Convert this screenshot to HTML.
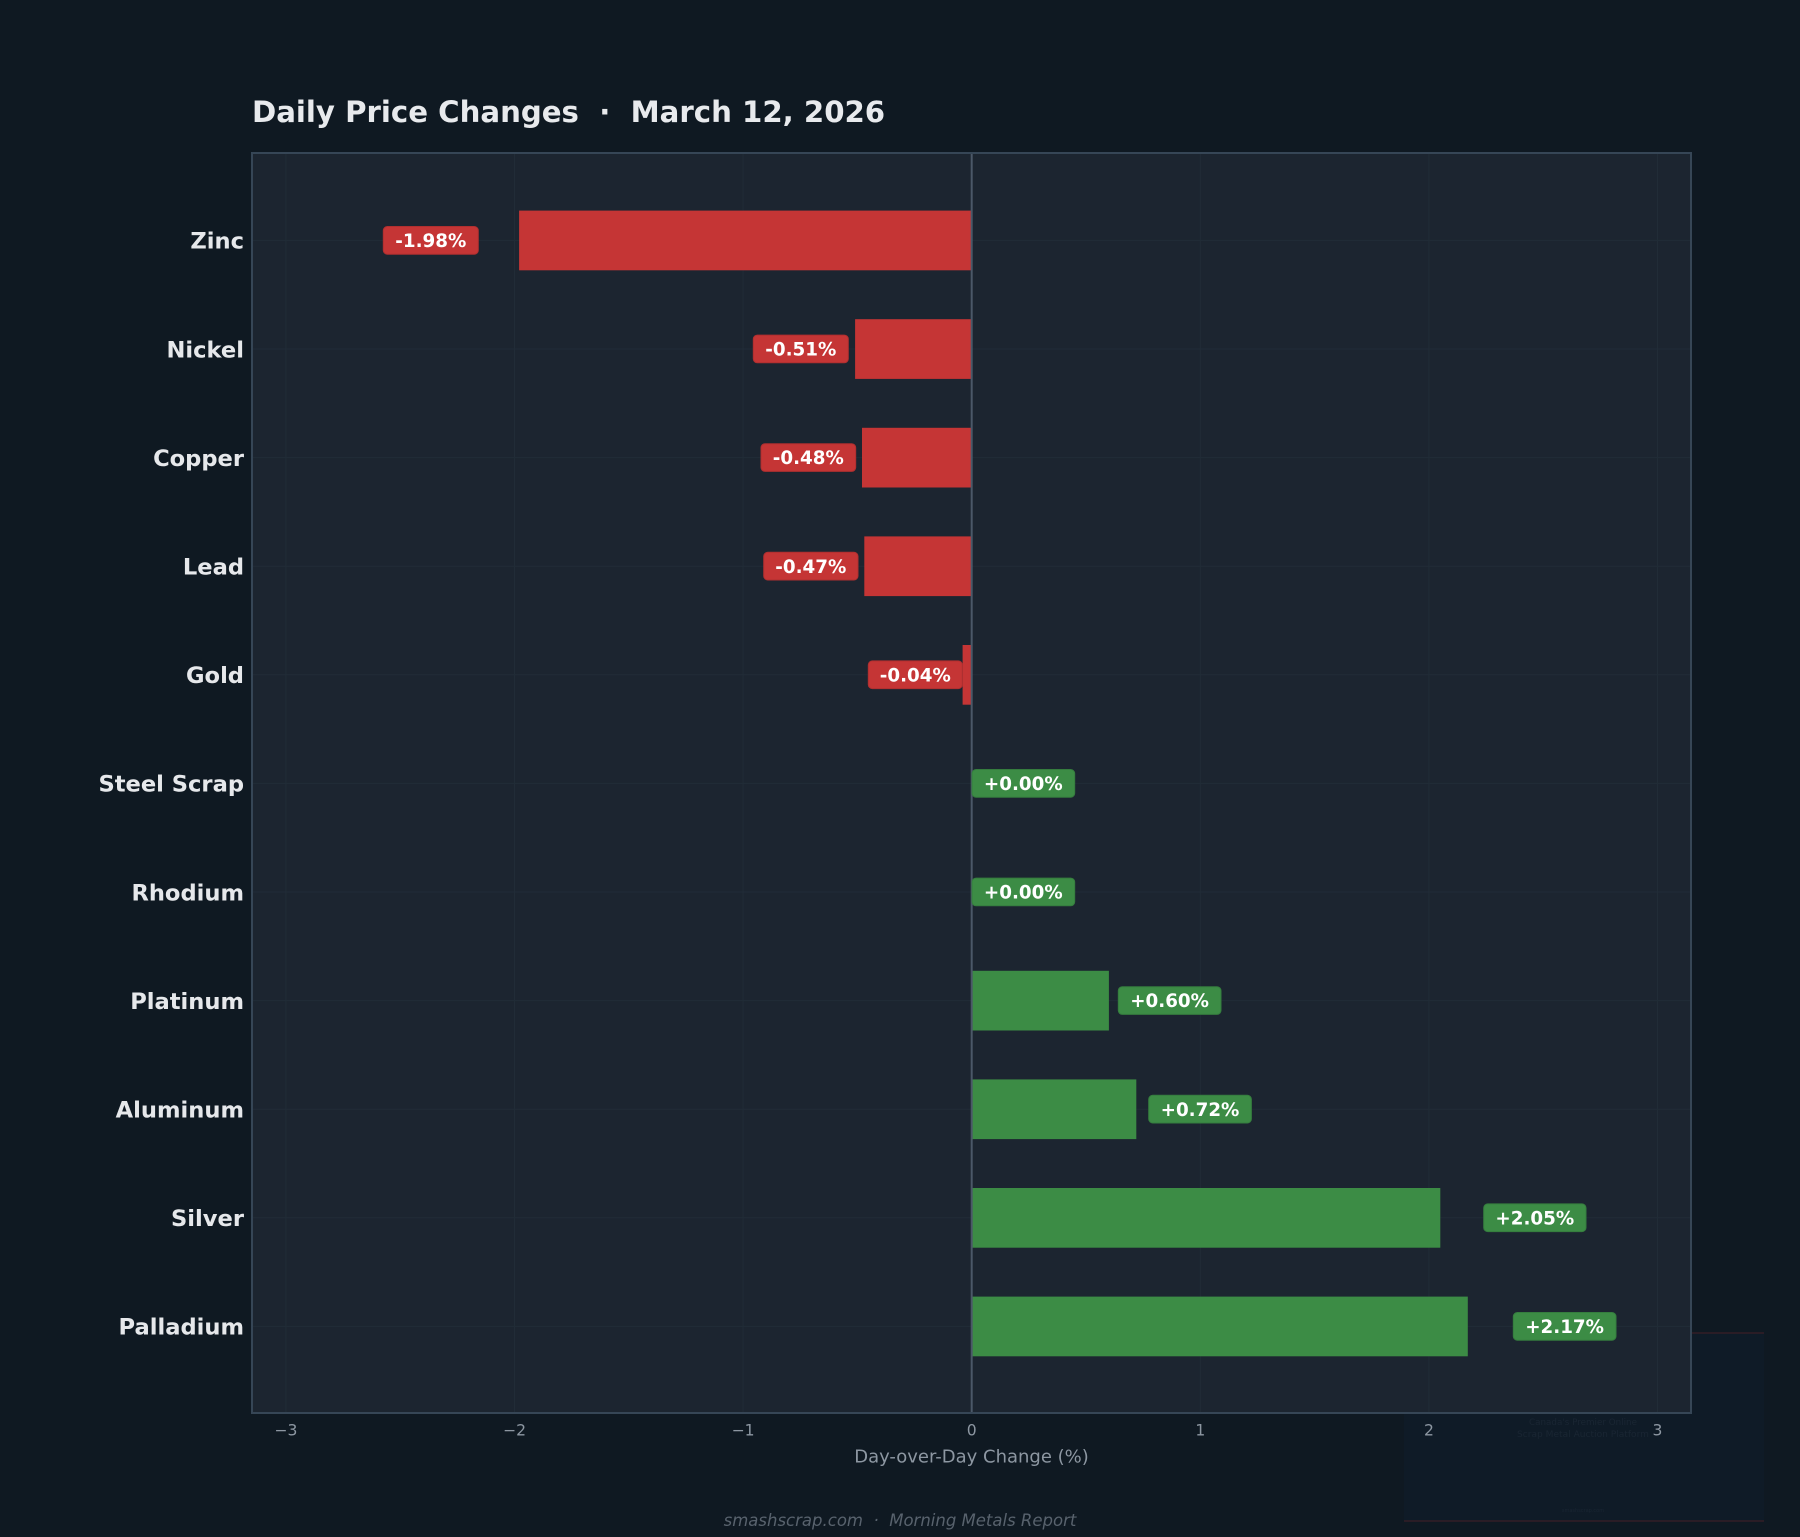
<!DOCTYPE html>
<html>
<head>
<meta charset="utf-8">
<style>
  html,body{margin:0;padding:0;background:#0f1922;}
  svg{display:block;}
  text{font-family:"DejaVu Sans","Liberation Sans",sans-serif;}
</style>
</head>
<body>
<svg width="1800" height="1537" viewBox="0 0 1800 1537" xmlns="http://www.w3.org/2000/svg">
  <rect x="0" y="0" width="1800" height="1537" fill="#0f1922"/>

  <!-- watermark panel -->
  <rect x="1404" y="1333" width="360" height="188" fill="#0f1b27"/>
  <line x1="1404" y1="1333" x2="1764" y2="1333" stroke="#331e26" stroke-width="1.5"/>
  <line x1="1404" y1="1521" x2="1764" y2="1521" stroke="#331e26" stroke-width="1.5"/>
  <text x="1583" y="1425" font-size="9" fill="#1a2633" text-anchor="middle" textLength="108" lengthAdjust="spacingAndGlyphs">Canada's Premier Online</text>
  <text x="1583" y="1437" font-size="9" fill="#1a2633" text-anchor="middle" textLength="132" lengthAdjust="spacingAndGlyphs">Scrap Metal Auction Platform</text>
  <text x="1583" y="1512" font-size="5" fill="#1a2633" text-anchor="middle">smashscrap.com</text>

  <!-- title -->
  <text x="252" y="122" font-size="29.2" font-weight="bold" fill="#e8eaed" xml:space="preserve">Daily Price Changes  ·  March 12, 2026</text>

  <!-- axes background -->
  <rect x="252" y="153" width="1439" height="1260" fill="#1c2530"/>

  <!-- grid vertical -->
  <g stroke="#212c37" stroke-width="1">
    <line x1="285.9" y1="153" x2="285.9" y2="1413"/>
    <line x1="514.5" y1="153" x2="514.5" y2="1413"/>
    <line x1="743.1" y1="153" x2="743.1" y2="1413"/>
    <line x1="1200.3" y1="153" x2="1200.3" y2="1413"/>
    <line x1="1428.9" y1="153" x2="1428.9" y2="1413"/>
    <line x1="1657.5" y1="153" x2="1657.5" y2="1413"/>
  </g>
  <!-- grid horizontal -->
  <g stroke="#212c37" stroke-width="1">
    <line x1="252" y1="240.4" x2="1691" y2="240.4"/>
    <line x1="252" y1="349" x2="1691" y2="349"/>
    <line x1="252" y1="457.6" x2="1691" y2="457.6"/>
    <line x1="252" y1="566.2" x2="1691" y2="566.2"/>
    <line x1="252" y1="674.8" x2="1691" y2="674.8"/>
    <line x1="252" y1="783.4" x2="1691" y2="783.4"/>
    <line x1="252" y1="892" x2="1691" y2="892"/>
    <line x1="252" y1="1000.6" x2="1691" y2="1000.6"/>
    <line x1="252" y1="1109.2" x2="1691" y2="1109.2"/>
    <line x1="252" y1="1217.8" x2="1691" y2="1217.8"/>
    <line x1="252" y1="1326.4" x2="1691" y2="1326.4"/>
  </g>

  <!-- bars -->
  <g fill="#c53535">
    <rect x="519.1" y="210.6" width="452.6" height="59.7"/>
    <rect x="855.1" y="319.2" width="116.6" height="59.7"/>
    <rect x="862.0" y="427.8" width="109.7" height="59.7"/>
    <rect x="864.3" y="536.4" width="107.4" height="59.7"/>
    <rect x="962.6" y="645.0" width="9.1" height="59.7"/>
  </g>
  <g fill="#3c8c45">
    <rect x="971.7" y="970.8" width="137.2" height="59.7"/>
    <rect x="971.7" y="1079.4" width="164.6" height="59.7"/>
    <rect x="971.7" y="1188.0" width="468.6" height="59.7"/>
    <rect x="971.7" y="1296.6" width="496.1" height="59.7"/>
  </g>

  <!-- zero line -->
  <line x1="971.7" y1="153" x2="971.7" y2="1413" stroke="#4b5868" stroke-width="2"/>

  <!-- axes border -->
  <rect x="252" y="153" width="1439" height="1260" fill="none" stroke="#364656" stroke-width="2"/>

  <!-- value labels -->
  <g font-size="18.3" font-weight="bold" fill="#ffffff" text-anchor="middle">
    <rect x="383.3" y="226.5" width="95" height="27.7" rx="4" fill="#c53535" stroke="#b02f2f" stroke-width="1"/>
    <text x="430.8" y="247">-1.98%</text>
    <rect x="753.3" y="335.1" width="95" height="27.7" rx="4" fill="#c53535" stroke="#b02f2f" stroke-width="1"/>
    <text x="800.8" y="355.6">-0.51%</text>
    <rect x="761" y="443.7" width="94.7" height="27.7" rx="4" fill="#c53535" stroke="#b02f2f" stroke-width="1"/>
    <text x="808.3" y="464.2">-0.48%</text>
    <rect x="763.7" y="552.3" width="94.3" height="27.7" rx="4" fill="#c53535" stroke="#b02f2f" stroke-width="1"/>
    <text x="810.8" y="572.8">-0.47%</text>
    <rect x="868.3" y="660.9" width="94" height="27.7" rx="4" fill="#c53535" stroke="#b02f2f" stroke-width="1"/>
    <text x="915.3" y="681.4">-0.04%</text>
    <rect x="972" y="769.5" width="102.7" height="27.7" rx="4" fill="#3c8c45" stroke="#357d3e" stroke-width="1"/>
    <text x="1023.3" y="790">+0.00%</text>
    <rect x="972" y="878.1" width="102.7" height="27.7" rx="4" fill="#3c8c45" stroke="#357d3e" stroke-width="1"/>
    <text x="1023.3" y="898.6">+0.00%</text>
    <rect x="1118.3" y="986.7" width="102.7" height="27.7" rx="4" fill="#3c8c45" stroke="#357d3e" stroke-width="1"/>
    <text x="1169.6" y="1007.2">+0.60%</text>
    <rect x="1148.7" y="1095.3" width="102.7" height="27.7" rx="4" fill="#3c8c45" stroke="#357d3e" stroke-width="1"/>
    <text x="1200" y="1115.8">+0.72%</text>
    <rect x="1483.7" y="1203.9" width="102.3" height="27.7" rx="4" fill="#3c8c45" stroke="#357d3e" stroke-width="1"/>
    <text x="1534.8" y="1224.4">+2.05%</text>
    <rect x="1513.3" y="1312.5" width="102.7" height="27.7" rx="4" fill="#3c8c45" stroke="#357d3e" stroke-width="1"/>
    <text x="1564.6" y="1333">+2.17%</text>
  </g>

  <!-- y category labels -->
  <g font-size="22.6" font-weight="bold" fill="#e6e8eb" text-anchor="end">
    <text x="244" y="248.7">Zinc</text>
    <text x="244" y="357.3">Nickel</text>
    <text x="244" y="465.9">Copper</text>
    <text x="244" y="574.5">Lead</text>
    <text x="244" y="683.1">Gold</text>
    <text x="244" y="791.7">Steel Scrap</text>
    <text x="244" y="900.3">Rhodium</text>
    <text x="244" y="1008.9">Platinum</text>
    <text x="244" y="1117.5">Aluminum</text>
    <text x="244" y="1226.1">Silver</text>
    <text x="244" y="1334.7">Palladium</text>
  </g>

  <!-- x tick labels -->
  <g font-size="15.6" fill="#8d97a2" text-anchor="middle">
    <text x="285.9" y="1435.7">−3</text>
    <text x="514.5" y="1435.7">−2</text>
    <text x="743.1" y="1435.7">−1</text>
    <text x="971.7" y="1435.7">0</text>
    <text x="1200.3" y="1435.7">1</text>
    <text x="1428.9" y="1435.7">2</text>
    <text x="1657.5" y="1435.7">3</text>
  </g>

  <!-- x axis label -->
  <text x="971.5" y="1462.5" font-size="18" fill="#8d97a2" text-anchor="middle">Day-over-Day Change (%)</text>

  <!-- footer -->
  <text x="900" y="1526" font-size="16.5" font-style="italic" fill="#58626d" text-anchor="middle" xml:space="preserve">smashscrap.com  ·  Morning Metals Report</text>
</svg>
</body>
</html>
